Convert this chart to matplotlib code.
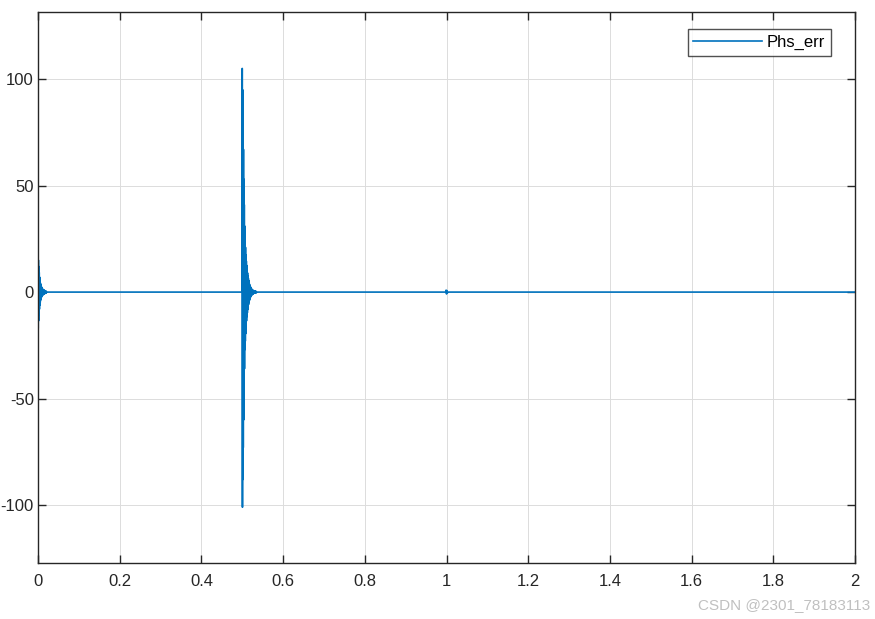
import numpy as np
import matplotlib
matplotlib.use("Agg")
import matplotlib.pyplot as plt

plt.rcParams['font.family'] = ['Liberation Sans', 'DejaVu Sans']
plt.rcParams['axes.unicode_minus'] = False

# ---- data ----
# start-up transient at t = 0 (sample step 0.0005 s)
burst1_start = 0.0
burst1_step = 0.0005
burst1_vals = [17, -17, 15, -13.5, 12, -10.5, 9.2, -8, 7, -6.2, 5.4, -4.8, 4.2,
               -3.8, 3.4, -3.0, 2.7, -2.4, 2.2, -2.0, 1.8, -1.65, 1.5, -1.4, 1.3,
               -1.2, 1.1, -1.0, 0.95, -0.9, 0.85, -0.8, 0.75, -0.7, 0.65, -0.6,
               0.55, -0.5, 0.45, -0.4, 0.35, -0.3, 0.0]

# step disturbance at t = 0.5 (sample step 0.0005 s)
burst2_start = 0.5
burst2_step = 0.0005
burst2_vals = [105, -101, 95, -88, 80, -73, 67, -60, 53, -47, 41, -36, 31, -27,
               25, -23, 21, -19.5, 17.5, -16, 14.5, -13.5, 12.5, -11.5, 10.5,
               -9.7, 9, -8.2, 7.5, -7, 6.4, -5.8, 5.3, -4.8, 4.4, -4, 3.6, -3.3,
               3, -2.7, 2.5, -2.3, 2.1, -1.9, 1.7, -1.6, 1.45, -1.3, 1.2, -1.1,
               1.0, -0.9, 0.85, -0.8, 0.75, -0.7, 0.65, -0.6, 0.55, -0.5, 0.5,
               -0.45, 0.45, -0.4, 0.4, -0.35, 0.35, -0.3, 0.3, -0.3, 0.0]

# small blip at t = 1.0
blip_t = [0.998, 0.999, 1.000, 1.001, 1.002, 1.003]
blip_v = [0.0, 0.9, -0.9, 0.7, -0.5, 0.0]

t_end = 2.0
xticks = [0, 0.2, 0.4, 0.6, 0.8, 1, 1.2, 1.4, 1.6, 1.8, 2]
xticklabels = ['0', '0.2', '0.4', '0.6', '0.8', '1', '1.2', '1.4', '1.6', '1.8', '2']
yticks = [-100, -50, 0, 50, 100]
series_name = 'Phs_err'

# ---- assemble the trace ----
t1 = burst1_start + burst1_step * np.arange(len(burst1_vals))
t2 = burst2_start + burst2_step * np.arange(len(burst2_vals))
t = np.concatenate([t1, [burst2_start - 0.0005], t2, blip_t, [t_end]])
y = np.concatenate([burst1_vals, [0.0], burst2_vals, blip_v, [0.0]])
order = np.argsort(t, kind='stable')
t = t[order]
y = y[order]

fig = plt.figure(figsize=(8.75, 6.19), dpi=100)
ax = fig.add_axes([38 / 875, 1 - 563 / 619, (855 - 38) / 875, (563 - 12) / 619])

ax.plot(t, y, color='#0072BD', linewidth=1.2, label=series_name)

ax.set_xlim(0, 2)
ax.set_ylim(-127.2, 131.5)
ax.set_xticks(xticks)
ax.set_xticklabels(xticklabels)
ax.set_yticks(yticks)
ax.grid(True, color='#dcdcdc', linewidth=0.7)
ax.set_axisbelow(True)
ax.tick_params(direction='in', length=6, width=1, top=True, right=True,
               labelsize=12, colors='#262626', labelcolor='#262626')
ax.tick_params(axis='x', pad=8)
ax.tick_params(axis='y', pad=3)
for sp in ax.spines.values():
    sp.set_color('#262626')
    sp.set_linewidth(1.0)

leg = ax.legend(loc='upper right', bbox_to_anchor=(831 / 875, 1 - 29 / 619),
                bbox_transform=fig.transFigure, fontsize=12, frameon=True,
                fancybox=False, edgecolor='#262626', borderpad=0.35,
                handlelength=4.1, handletextpad=0.3, borderaxespad=0)
leg.get_frame().set_linewidth(1.0)

fig.text(0.995, 0.012, 'CSDN @2301_78183113', ha='right', va='bottom',
         fontsize=11, color='#c0c0c0')

fig.savefig('out.png', dpi=100)
